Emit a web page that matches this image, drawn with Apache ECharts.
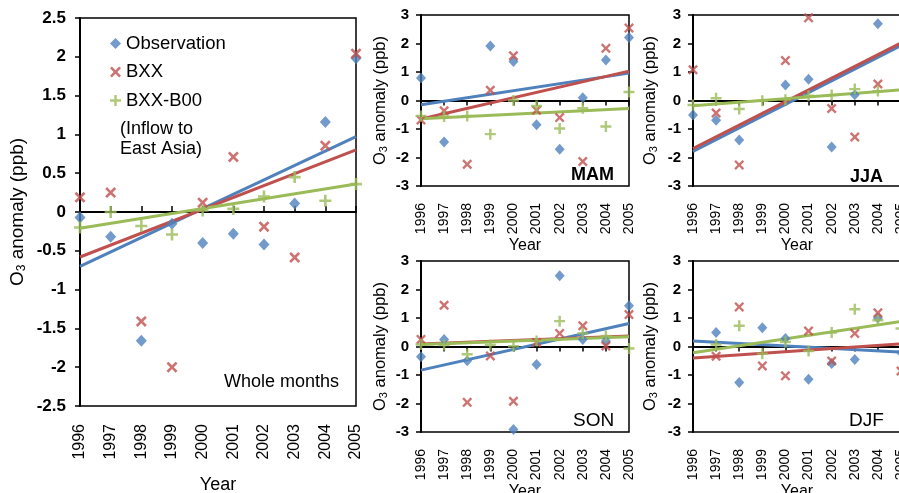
<!DOCTYPE html>
<html><head><meta charset="utf-8">
<script src="https://cdn.jsdelivr.net/npm/echarts@6/dist/echarts.min.js"></script>
<style>html,body{margin:0;padding:0;background:#fff}#c{width:899px;height:493px}</style>
</head><body><div id="c"></div>
<script>
const years = ['1996','1997','1998','1999','2000','2001','2002','2003','2004','2005'];
const seriesNames = ['Observation','BXX','BXX-B00'];

// Whole months
const obsAll  = [-0.07,-0.32,-1.66,-0.15,-0.40,-0.28,-0.42,0.11,1.16,1.98];
const bxxAll  = [0.19,0.25,-1.41,-2.00,0.12,0.71,-0.19,-0.585,0.855,2.04];
const diffAll = [-0.20,0.00,-0.18,-0.29,0.02,0.04,0.20,0.45,0.145,0.36];
const obsAllTrend = [-0.70,0.97], bxxAllTrend = [-0.58,0.80], diffAllTrend = [-0.21,0.36];

// MAM
const obsMAM  = [0.79,-1.46,null,1.91,1.37,-0.85,-1.71,0.10,1.42,2.21];
const bxxMAM  = [-0.68,-0.36,-2.24,0.36,1.57,-0.34,-0.60,-2.14,1.83,2.54];
const diffMAM = [-0.54,-0.56,-0.54,-1.18,0.00,-0.19,-0.98,-0.27,-0.91,0.30];
const obsMAMTrend = [-0.15,0.96], bxxMAMTrend = [-0.65,1.03], diffMAMTrend = [-0.64,-0.28];

// JJA
const obsJJA  = [-0.51,-0.69,-1.39,null,0.54,0.75,-1.63,0.20,2.69,null];
const bxxJJA  = [1.08,-0.44,-2.26,null,1.40,2.90,-0.28,-1.28,0.58,null];
const diffJJA = [-0.16,0.08,-0.30,-0.01,0.03,0.17,0.19,0.40,0.33,null];
const obsJJATrend = [-1.79,1.93], bxxJJATrend = [-1.69,2.02], diffJJATrend = [-0.18,0.37];

// SON
const obsSON  = [-0.36,0.25,-0.50,null,-2.91,-0.63,2.48,0.25,0.19,1.43];
const bxxSON  = [0.25,1.45,-1.96,-0.33,-1.92,0.14,0.46,0.73,0.02,1.12];
const diffSON = [0.07,0.05,-0.27,0.05,0.01,0.19,0.89,0.46,0.37,-0.07];
const obsSONTrend = [-0.83,0.81], bxxSONTrend = [0.09,0.37], diffSONTrend = [0.07,0.34];

// DJF
const obsDJF  = [null,0.49,-1.26,0.66,0.28,-1.15,-0.60,-0.46,1.00,-0.21];
const bxxDJF  = [null,-0.34,1.39,-0.68,-1.03,0.54,-0.51,0.46,1.18,-0.86];
const diffDJF = [null,0.07,0.73,-0.25,0.16,-0.16,0.49,1.31,0.92,0.63];
const obsDJFTrend = [0.19,-0.20], bxxDJFTrend = [-0.40,0.09], diffDJFTrend = [-0.22,0.88];

const mainTicks = {min:-2.5, max:2.5, interval:0.5};
const seasonTicks = {min:-3, max:3, interval:1};

const FONT = 'Liberation Sans, Arial, sans-serif';
const BLUE = '#4F81BD', RED = '#C0504D', GREEN = '#9BBB59';
const X_PATH = 'path://M0,1.7L1.7,0L5,3.3L8.3,0L10,1.7L6.7,5L10,8.3L8.3,10L5,6.7L1.7,10L0,8.3L3.3,5Z';
const PLUS_PATH = 'path://M3.9,0H6.1V3.9H10V6.1H6.1V10H3.9V6.1H0V3.9H3.9Z';

function trendData(ends){
  const d = years.map(()=>null);
  d[0] = ends[0]; d[years.length-1] = ends[1];
  return d;
}

const panels = [
  {grid:{left:80, top:18, width:276, height:388}, ticks:mainTicks, obs:obsAll, bxx:bxxAll, diff:diffAll,
   tr:[obsAllTrend,bxxAllTrend,diffAllTrend], big:true},
  {grid:{left:421, top:15, width:208, height:171}, ticks:seasonTicks, obs:obsMAM, bxx:bxxMAM, diff:diffMAM,
   tr:[obsMAMTrend,bxxMAMTrend,diffMAMTrend]},
  {grid:{left:693, top:15, width:208, height:171}, ticks:seasonTicks, obs:obsJJA, bxx:bxxJJA, diff:diffJJA,
   tr:[obsJJATrend,bxxJJATrend,diffJJATrend]},
  {grid:{left:421, top:261, width:208, height:171}, ticks:seasonTicks, obs:obsSON, bxx:bxxSON, diff:diffSON,
   tr:[obsSONTrend,bxxSONTrend,diffSONTrend]},
  {grid:{left:693, top:261, width:208, height:171}, ticks:seasonTicks, obs:obsDJF, bxx:bxxDJF, diff:diffDJF,
   tr:[obsDJFTrend,bxxDJFTrend,diffDJFTrend]}
];

const grid = [], xAxis = [], yAxis = [], series = [];
panels.forEach((p, g) => {
  const big = !!p.big;
  grid.push(Object.assign({show:true, borderColor:'#000', borderWidth:1.5, containLabel:false,
    outerBoundsMode:'none'}, p.grid));
  const xlFont = big ? 16 : 14;
  xAxis.push({
    gridIndex:g, type:'category', data:years, boundaryGap:false, position:'bottom',
    axisLine:{show:false, onZero:false}, axisTick:{show:false}, splitLine:{show:false},
    axisLabel:{interval:0, rotate:90, fontSize:xlFont, color:'#000', fontFamily:FONT, margin: big?18:17},
    name:'Year', nameLocation:'middle', nameGap: big?70:49,
    nameTextStyle:{fontSize: big?18:16, color:'#000', fontFamily:FONT}
  });
  xAxis.push({
    gridIndex:g, type:'category', data:years, boundaryGap:false, position:'bottom',
    axisLine:{show:true, onZero:true, lineStyle:{color:'#000', width:2}},
    axisTick:{show:true, interval:0, inside: big, length: big?6:5, lineStyle:{color:'#000', width:1.5}},
    axisLabel:{show:false}, splitLine:{show:false}
  });
  const nf = big ? 19 : 16.5;
  yAxis.push({
    gridIndex:g, type:'value', min:p.ticks.min, max:p.ticks.max, interval:p.ticks.interval,
    axisLine:{show:true, onZero:false, lineStyle:{color:'#000', width:2}},
    axisTick:{show:true, inside:false, length:5, lineStyle:{color:'#000', width:1.5}},
    axisLabel:{fontSize: big?17:15, fontWeight:'bold', color:'#000', fontFamily:FONT, margin: big?14:12},
    splitLine:{show:false},
    name:'{a|O}{s|3}{a| anomaly (ppb)}', nameLocation:'middle', nameRotate:90,
    nameGap: big?52:(g===2||g===4?34:32),
    nameTextStyle:{fontFamily:FONT, color:'#000',
      rich:{a:{fontSize:nf, fontFamily:FONT, color:'#000'},
            s:{fontSize:Math.round(nf*0.65), fontFamily:FONT, color:'#000', padding:[Math.round(nf*0.45),0,0,0]}}}
  });
  const xi = g*2;
  const lw = 3;
  [[p.tr[0],BLUE],[p.tr[1],RED],[p.tr[2],GREEN]].forEach(([t,c])=>{
    series.push({type:'line', xAxisIndex:xi, yAxisIndex:g, data:trendData(t), connectNulls:true,
      showSymbol:false, symbol:'none', lineStyle:{color:c, width:lw}, z:3, silent:true, animation:false});
  });
  const ms = big ? 11 : 10;
  series.push({name:'Observation', type:'scatter', xAxisIndex:xi, yAxisIndex:g, data:p.obs,
    symbol:'diamond', symbolSize:[ms, ms+1], itemStyle:{color:BLUE}, z:5, animation:false});
  series.push({name:'BXX', type:'scatter', xAxisIndex:xi, yAxisIndex:g, data:p.bxx,
    symbol:X_PATH, symbolSize: big?11:10, itemStyle:{color:RED}, z:5, animation:false});
  series.push({name:'BXX-B00', type:'scatter', xAxisIndex:xi, yAxisIndex:g, data:p.diff,
    symbol:PLUS_PATH, symbolSize: big?12:11, itemStyle:{color:GREEN}, z:5, animation:false});
});

const txt = (text, left, top, size, weight) => ({text, left, top,
  textStyle:{fontSize:size, fontWeight:weight||'normal', color:'#000', fontFamily:FONT, lineHeight:20}});

const option = {
  backgroundColor:'#fff',
  animation:false,
  textStyle:{fontFamily:FONT},
  grid, xAxis, yAxis, series,
  legend:{
    orient:'vertical', left:105, top:29, itemGap:9.5, itemWidth:11, itemHeight:11,
    textStyle:{fontSize:18.5, color:'#000', fontFamily:FONT},
    selectedMode:false,
    data:[
      {name:'Observation', icon:'diamond', itemStyle:{color:BLUE}},
      {name:'BXX', icon:X_PATH, itemStyle:{color:RED}},
      {name:'BXX-B00', icon:PLUS_PATH, itemStyle:{color:GREEN}}
    ]
  },
  title:[
    txt('(Inflow to\nEast Asia)', 115, 114, 18),
    txt('Whole months', 219, 367, 18),
    txt('MAM', 566, 160, 18, 'bold'),
    txt('JJA', 845, 162, 18, 'bold'),
    txt('SON', 568, 406, 19),
    txt('DJF', 844, 406, 19)
  ]
};

const chart = echarts.init(document.getElementById('c'), null, {renderer:'canvas'});
chart.setOption(option);
</script>
</body></html>
